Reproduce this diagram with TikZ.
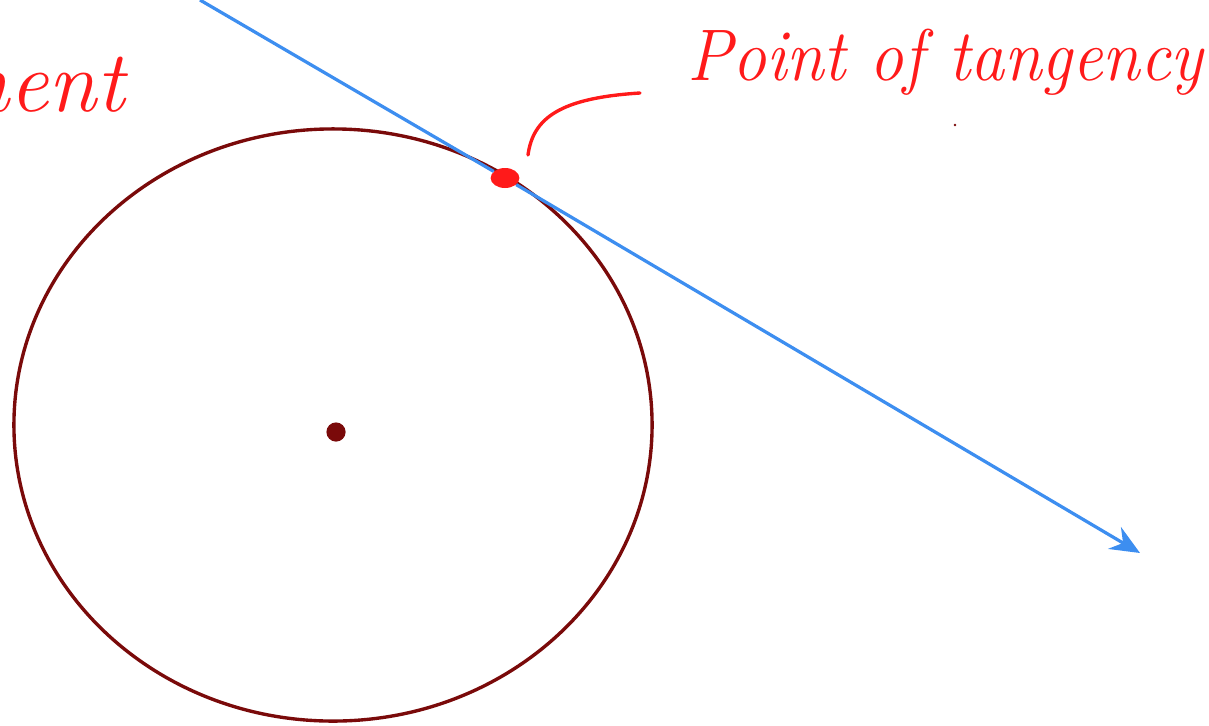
\documentclass[tikz,border=0pt]{standalone}
\usepackage{xcolor}
\usetikzlibrary{shapes.geometric, arrows.meta}
\definecolor{maroon}{HTML}{7A0A0A}
\definecolor{penblue}{HTML}{3D8EF0}
\definecolor{penred}{HTML}{FF1A1A}
\tikzstyle{arrow} = [line width=2.3pt, draw=penblue, -{Stealth[length=21pt, width=18pt, inset=7pt]}]
\tikzstyle{ink}   = [line width=2.4pt, draw=penred, line cap=round]
\tikzstyle{hand}  = [text=penred, font=\itshape\fontsize{52}{58}\selectfont]

\begin{document}
\begin{tikzpicture}[x=0.025cm, y=-0.025cm]
    \useasboundingbox (0,0) rectangle (1209,725);

    \node (circ) at (333,425) [ellipse, draw=maroon, line width=2.4pt, minimum width=15.95cm, minimum height=14.8cm] {};
    \node (ctr)  at (336,432) [circle, fill=maroon, inner sep=0pt, minimum size=0.48cm] {};
    \node (tp)   at (505,178) [ellipse, fill=penred, inner sep=0pt, minimum width=0.72cm, minimum height=0.5cm] {};

    \coordinate (lstart) at (200,0);
    \coordinate (lend)   at (1140,553);
    \draw [arrow] (lstart) -- (tp) -- (lend);

    \coordinate (ldrA) at (528,155);
    \coordinate (ldrB) at (640,93);
    \draw [ink] (ldrA) .. controls (533,118) and (560,98) .. (ldrB);

    \node (label) at (945,62) [hand, xscale=0.93] {Point of tangency};
    \node (frag)  at (130,85) [hand, anchor=east, font=\itshape\fontsize{62}{66}\selectfont] {ment};
    \node (speck) at (955,125) [circle, fill=maroon, inner sep=0pt, minimum size=2pt] {};
\end{tikzpicture}
\end{document}
